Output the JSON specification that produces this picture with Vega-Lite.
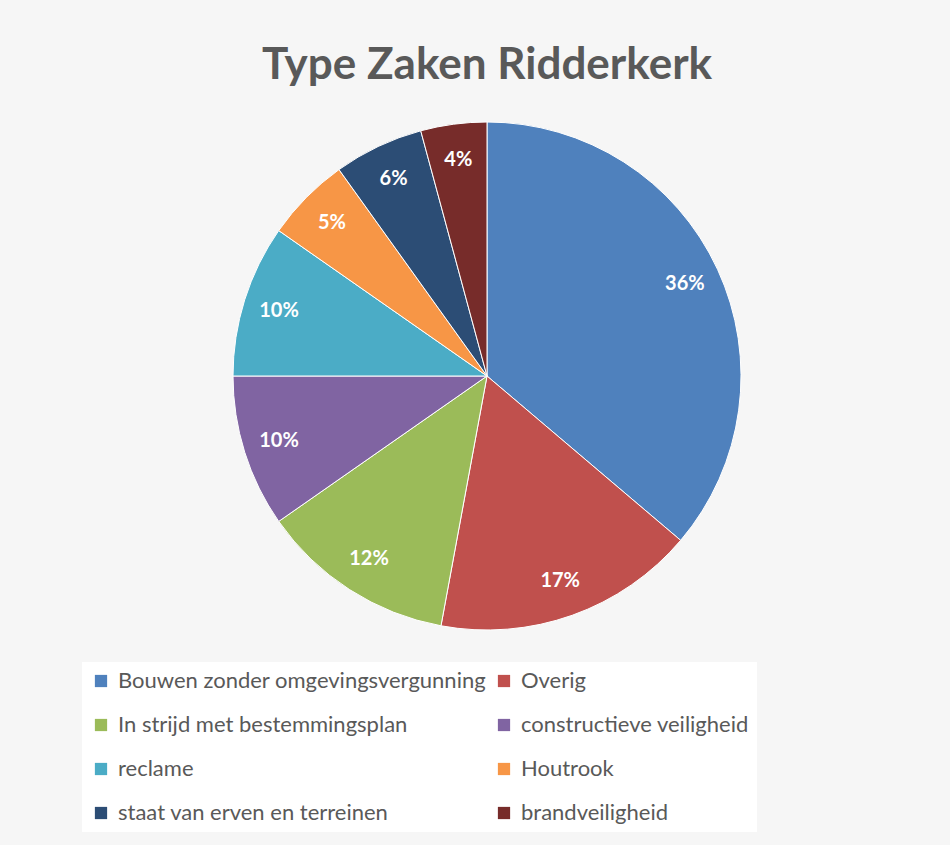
{
  "$schema": "https://vega.github.io/schema/vega-lite/v6.json",
  "width": 926,
  "height": 508,
  "autosize": {"type": "none"},
  "padding": {"left": 24, "top": 122, "right": 0, "bottom": 215},
  "background": "#f6f6f6",
  "title": {
    "text": "Type Zaken Ridderkerk",
    "font": "Lato",
    "fontSize": 44,
    "fontWeight": "bold",
    "color": "#595959",
    "anchor": "middle",
    "offset": 32
  },
  "data": {
    "values": [
      {"type": "Bouwen zonder omgevingsvergunning", "share": 0.362, "idx": 1},
      {"type": "Overig", "share": 0.167, "idx": 2},
      {"type": "In strijd met bestemmingsplan", "share": 0.124, "idx": 3},
      {"type": "constructieve veiligheid", "share": 0.097, "idx": 4},
      {"type": "reclame", "share": 0.097, "idx": 5},
      {"type": "Houtrook", "share": 0.054, "idx": 6},
      {"type": "staat van erven en terreinen", "share": 0.057, "idx": 7},
      {"type": "brandveiligheid", "share": 0.042, "idx": 8}
    ]
  },
  "encoding": {
    "theta": {"field": "share", "type": "quantitative", "stack": true},
    "order": {"field": "idx", "type": "quantitative"}
  },
  "layer": [
    {
      "mark": {"type": "arc", "outerRadius": 254, "stroke": "white", "strokeWidth": 1},
      "encoding": {
        "color": {
          "field": "type",
          "type": "nominal",
          "sort": null,
          "scale": {
            "domain": ["Bouwen zonder omgevingsvergunning", "Overig", "In strijd met bestemmingsplan", "constructieve veiligheid", "reclame", "Houtrook", "staat van erven en terreinen", "brandveiligheid"],
            "range": ["#4F81BD", "#C0504D", "#9BBB59", "#8064A2", "#4BACC6", "#F79646", "#2C4D75", "#772C2A"]
          },
          "legend": {
            "orient": "none",
            "legendX": 58,
            "legendY": 540,
            "title": null,
            "columns": 2,
            "direction": "horizontal",
            "columnPadding": 6,
            "rowPadding": 22,
            "symbolType": "square",
            "symbolSize": 150,
            "symbolStrokeWidth": 0,
            "labelFont": "Lato",
            "labelFontSize": 22,
            "labelColor": "#595959",
            "labelOffset": 6,
            "fillColor": "white",
            "padding": 8,
            "labelLimit": 500
          }
        }
      }
    },
    {
      "mark": {"type": "text", "radius": 218, "font": "Lato", "fontSize": 20, "fontWeight": "bold", "color": "white"},
      "encoding": {
        "text": {"field": "share", "type": "quantitative", "format": ".0%"}
      }
    }
  ],
  "config": {"view": {"stroke": null}}
}
